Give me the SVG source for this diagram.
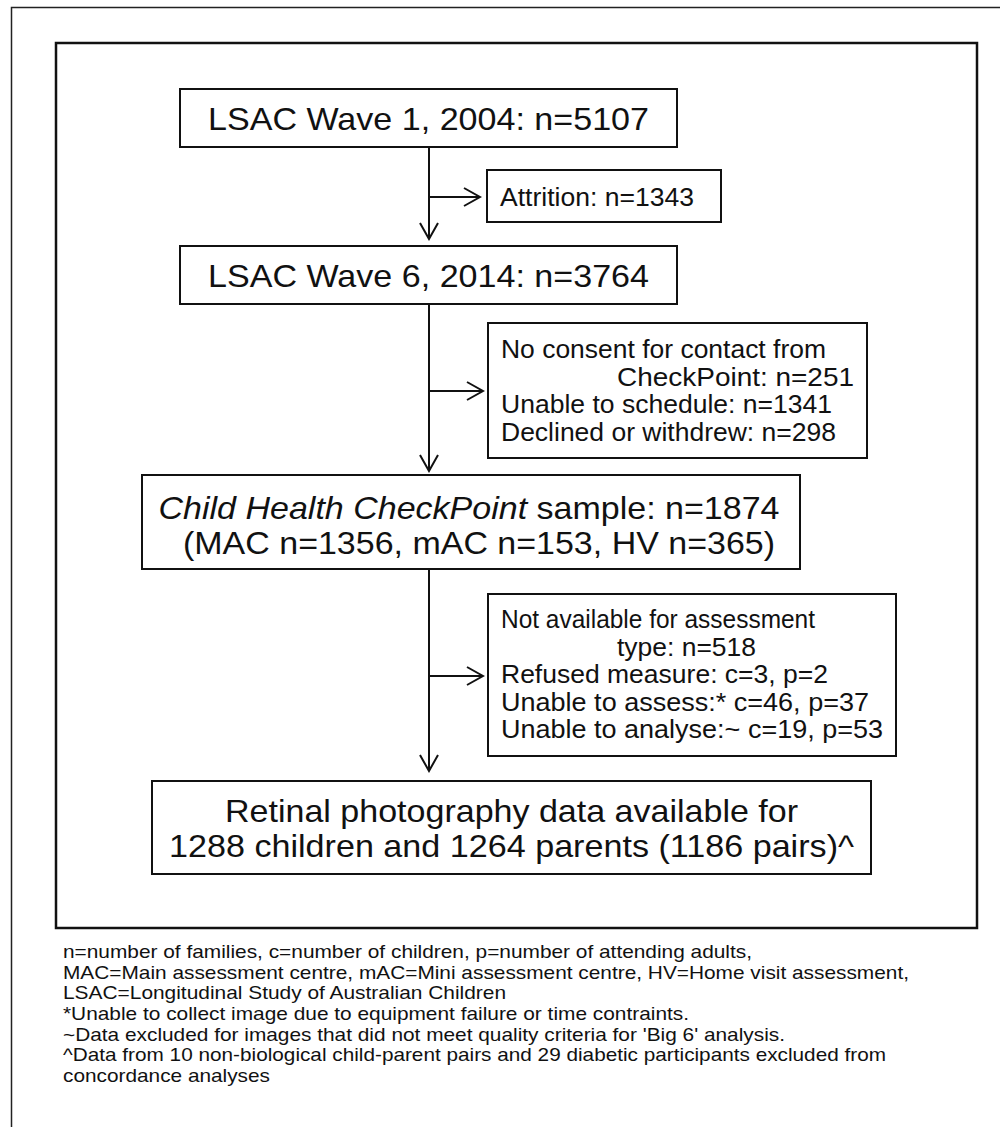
<svg xmlns="http://www.w3.org/2000/svg" width="1000" height="1127" viewBox="0 0 1000 1127">
<defs>
<style>
.box{fill:#fff;stroke:#111;stroke-width:2}
.big{font-family:"Liberation Sans",Arial,sans-serif;font-size:32px;fill:#111}
.med{font-family:"Liberation Sans",Arial,sans-serif;font-size:25.5px;fill:#111}
.note{font-family:"Liberation Sans",Arial,sans-serif;font-size:19px;fill:#111}
.ln{fill:none;stroke:#111;stroke-width:2}
</style>
<marker id="ah" markerWidth="20" markerHeight="22" refX="18" refY="11" orient="auto" markerUnits="userSpaceOnUse">
<path d="M2,2 L18,11 L2,20" fill="none" stroke="#111" stroke-width="2"/>
</marker>
</defs>
<rect width="1000" height="1127" fill="#fff"/>
<path d="M11.5,1127 V7.5 H1000" fill="none" stroke="#222" stroke-width="1.5"/>
<rect x="56" y="43" width="921" height="885" fill="none" stroke="#111" stroke-width="2.5"/>
<g id="connectors">
<line class="ln" x1="429" y1="147" x2="429" y2="239" marker-end="url(#ah)"/>
<line class="ln" x1="429" y1="197" x2="480" y2="197" marker-end="url(#ah)"/>
<line class="ln" x1="429" y1="304" x2="429" y2="471" marker-end="url(#ah)"/>
<line class="ln" x1="429" y1="391" x2="483" y2="391" marker-end="url(#ah)"/>
<line class="ln" x1="429" y1="569" x2="429" y2="771" marker-end="url(#ah)"/>
<line class="ln" x1="429" y1="676" x2="483" y2="676" marker-end="url(#ah)"/>
</g>
<g id="wave1">
<rect class="box" x="180" y="89" width="497" height="58"/>
<text class="big" x="428.5" y="130" text-anchor="middle" textLength="441" lengthAdjust="spacingAndGlyphs">LSAC Wave 1, 2004: n=5107</text>
</g>
<g id="attrition">
<rect class="box" x="487" y="170" width="234" height="52"/>
<text class="med" x="500" y="206" textLength="194" lengthAdjust="spacingAndGlyphs">Attrition: n=1343</text>
</g>
<g id="wave6">
<rect class="box" x="180" y="246" width="497" height="58"/>
<text class="big" x="428.5" y="287" text-anchor="middle" textLength="441" lengthAdjust="spacingAndGlyphs">LSAC Wave 6, 2014: n=3764</text>
</g>
<g id="excl1">
<rect class="box" x="488" y="323" width="379" height="135"/>
<text class="med" x="501" y="358" textLength="325" lengthAdjust="spacingAndGlyphs">No consent for contact from</text>
<text class="med" x="617" y="386" textLength="237" lengthAdjust="spacingAndGlyphs">CheckPoint: n=251</text>
<text class="med" x="501" y="413" textLength="331" lengthAdjust="spacingAndGlyphs">Unable to schedule: n=1341</text>
<text class="med" x="501" y="441" textLength="335" lengthAdjust="spacingAndGlyphs">Declined or withdrew: n=298</text>
</g>
<g id="checkpoint">
<rect class="box" x="142" y="475" width="658" height="94"/>
<text class="big" x="469" y="519" text-anchor="middle" textLength="621" lengthAdjust="spacingAndGlyphs"><tspan font-style="italic">Child Health CheckPoint</tspan> sample: n=1874</text>
<text class="big" x="479" y="554" text-anchor="middle" textLength="592" lengthAdjust="spacingAndGlyphs">(MAC n=1356, mAC n=153, HV n=365)</text>
</g>
<g id="excl2">
<rect class="box" x="488" y="594" width="408" height="162"/>
<text class="med" x="501" y="628" textLength="314" lengthAdjust="spacingAndGlyphs">Not available for assessment</text>
<text class="med" x="617" y="655.5" textLength="139" lengthAdjust="spacingAndGlyphs">type: n=518</text>
<text class="med" x="501" y="683" textLength="327" lengthAdjust="spacingAndGlyphs">Refused measure: c=3, p=2</text>
<text class="med" x="501" y="710.5" textLength="368" lengthAdjust="spacingAndGlyphs">Unable to assess:* c=46, p=37</text>
<text class="med" x="501" y="738" textLength="382" lengthAdjust="spacingAndGlyphs">Unable to analyse:~ c=19, p=53</text>
</g>
<g id="retinal">
<rect class="box" x="152" y="781" width="719" height="93"/>
<text class="big" x="511.5" y="822" text-anchor="middle" textLength="573" lengthAdjust="spacingAndGlyphs">Retinal photography data available for</text>
<text class="big" x="511.5" y="857" text-anchor="middle" textLength="685" lengthAdjust="spacingAndGlyphs">1288 children and 1264 parents (1186 pairs)^</text>
</g>
<g id="notes">
<text class="note" x="63" y="958" textLength="689" lengthAdjust="spacingAndGlyphs">n=number of families, c=number of children, p=number of attending adults,</text>
<text class="note" x="63" y="979" textLength="846" lengthAdjust="spacingAndGlyphs">MAC=Main assessment centre, mAC=Mini assessment centre, HV=Home visit assessment,</text>
<text class="note" x="63" y="999" textLength="443" lengthAdjust="spacingAndGlyphs">LSAC=Longitudinal Study of Australian Children</text>
<text class="note" x="63" y="1020" textLength="626" lengthAdjust="spacingAndGlyphs">*Unable to collect image due to equipment failure or time contraints.</text>
<text class="note" x="63" y="1041" textLength="722" lengthAdjust="spacingAndGlyphs">~Data excluded for images that did not meet quality criteria for 'Big 6' analysis.</text>
<text class="note" x="63" y="1061" textLength="823" lengthAdjust="spacingAndGlyphs">^Data from 10 non-biological child-parent pairs and 29 diabetic participants excluded from</text>
<text class="note" x="63" y="1082" textLength="207" lengthAdjust="spacingAndGlyphs">concordance analyses</text>
</g>
</svg>
